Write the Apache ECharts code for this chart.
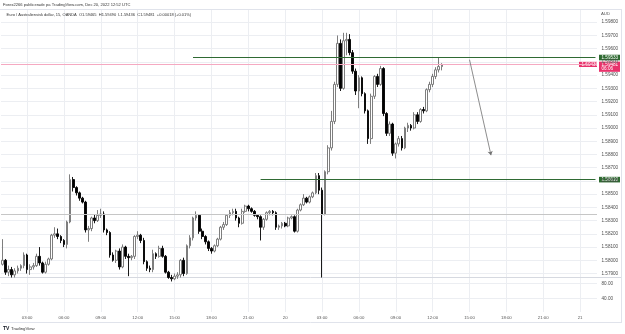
<!DOCTYPE html>
<html><head><meta charset="utf-8">
<script src="https://cdn.jsdelivr.net/npm/echarts@6/dist/echarts.min.js"></script>
<style>html,body{margin:0;padding:0;background:#fff}#c{width:625px;height:334px}</style>
</head><body><div id="c"></div>
<script>
// ---- DATA ----
const opens = [1.5797,1.5800,1.5791,1.5793,1.5789,1.5792,1.5794,1.5796,1.5804,1.5793,
1.5795,1.5796,1.5803,1.5798,1.5791,1.5797,1.5801,1.5819,1.5820,1.5818,
1.5815,1.5812,1.5829,1.5861,1.5855,1.5851,1.5847,1.5844,1.5823,1.5824,
1.5832,1.5830,1.5834,1.5835,1.5823,1.5821,1.5804,1.5800,1.5807,1.5795,
1.5810,1.5803,1.5802,1.5803,1.5818,1.5819,1.5815,1.5799,1.5794,1.5793,
1.5805,1.5803,1.5809,1.5803,1.5791,1.5787,1.5786,1.5788,1.5789,1.5800,
1.5790,1.5811,1.5817,1.5832,1.5834,1.5822,1.5818,1.5814,1.5809,1.5807,
1.5811,1.5816,1.5825,1.5827,1.5834,1.5836,1.5837,1.5832,1.5828,1.5837,
1.5841,1.5839,1.5837,1.5834,1.5833,1.5825,1.5831,1.5836,1.5837,1.5836,
1.5825,1.5826,1.5828,1.5826,1.5832,1.5833,1.5822,1.5838,1.5842,1.5847,
1.5844,1.5848,1.5851,1.5864,1.5853,1.5835,1.5867,1.5885,1.5905,1.5933,
1.5964,1.5930,1.5966,1.5967,1.5957,1.5943,1.5928,1.5938,1.5926,1.5913,
1.5892,1.5924,1.5939,1.5933,1.5945,1.5911,1.5896,1.5903,1.5881,1.5888,
1.5892,1.5885,1.5900,1.5902,1.5900,1.5910,1.5905,1.5914,1.5913,1.5929,
1.5933,1.5939,1.5944,1.59465];
const closes = [1.5800,1.5791,1.5793,1.5789,1.5792,1.5794,1.5796,1.5804,1.5793,1.5795,
1.5796,1.5803,1.5798,1.5791,1.5797,1.5801,1.5819,1.5820,1.5818,1.5815,
1.5812,1.5829,1.5861,1.5855,1.5851,1.5847,1.5844,1.5823,1.5824,1.5832,
1.5830,1.5834,1.5835,1.5823,1.5821,1.5804,1.5800,1.5807,1.5795,1.5810,
1.5803,1.5802,1.5803,1.5818,1.5819,1.5815,1.5799,1.5794,1.5793,1.5805,
1.5803,1.5809,1.5803,1.5791,1.5787,1.5786,1.5788,1.5789,1.5800,1.5790,
1.5811,1.5817,1.5832,1.5834,1.5822,1.5818,1.5814,1.5809,1.5807,1.5811,
1.5816,1.5825,1.5827,1.5834,1.5836,1.5837,1.5832,1.5828,1.5837,1.5841,
1.5839,1.5837,1.5834,1.5833,1.5825,1.5831,1.5836,1.5837,1.5836,1.5825,
1.5826,1.5828,1.5826,1.5832,1.5833,1.5822,1.5838,1.5842,1.5847,1.5844,
1.5848,1.5851,1.5864,1.5853,1.5835,1.5867,1.5885,1.5905,1.5933,1.5964,
1.5930,1.5966,1.5967,1.5957,1.5943,1.5928,1.5938,1.5926,1.5913,1.5892,
1.5924,1.5939,1.5933,1.5945,1.5911,1.5896,1.5903,1.5881,1.5888,1.5892,
1.5885,1.5900,1.5902,1.5900,1.5910,1.5905,1.5914,1.5913,1.5929,1.5933,
1.5939,1.5944,1.59465,1.59481];
const lows = [1.5796,1.5789,1.5788,1.5787,1.5787,1.5790,1.5792,1.5794,1.5790,1.5789,
1.5793,1.5795,1.5796,1.5790,1.5790,1.5796,1.5800,1.5817,1.5816,1.5813,
1.5810,1.5809,1.5828,1.5852,1.5849,1.5845,1.5843,1.5821,1.5814,1.5822,
1.5828,1.5829,1.5832,1.5821,1.5819,1.5802,1.5799,1.5798,1.5793,1.5794,
1.5801,1.5788,1.5800,1.5801,1.5816,1.5813,1.5797,1.5792,1.5791,1.5791,
1.5801,1.5802,1.5802,1.5790,1.5786,1.5784,1.5785,1.5786,1.5787,1.5788,
1.5789,1.5809,1.5815,1.5830,1.5820,1.5816,1.5812,1.5807,1.5805,1.5806,
1.5810,1.5815,1.5823,1.5826,1.5832,1.5834,1.5830,1.5825,1.5827,1.5836,
1.5837,1.5836,1.5833,1.5831,1.5815,1.5823,1.5830,1.5834,1.5834,1.5823,
1.5823,1.5824,1.5825,1.5825,1.5831,1.5821,1.5821,1.5837,1.5841,1.5843,
1.5843,1.5847,1.5850,1.5850,1.5787,1.5834,1.5865,1.5883,1.5903,1.5931,
1.5928,1.5929,1.5955,1.5955,1.5941,1.5925,1.5915,1.5924,1.5911,1.5888,
1.5888,1.5922,1.5931,1.5932,1.5909,1.5894,1.5894,1.5879,1.5877,1.5886,
1.5883,1.5884,1.5897,1.5898,1.5899,1.5903,1.5904,1.5911,1.5912,1.5927,
1.5931,1.5937,1.5942,1.59436];
const highs = [1.5816,1.5801,1.5796,1.5795,1.5794,1.5796,1.5797,1.5806,1.5805,1.5797,
1.5798,1.5805,1.5810,1.5799,1.5799,1.5802,1.5820,1.5825,1.5824,1.5819,
1.5816,1.5830,1.5865,1.5863,1.5856,1.5852,1.5848,1.5845,1.5826,1.5833,
1.5835,1.5838,1.5839,1.5837,1.5824,1.5822,1.5806,1.5808,1.5809,1.5812,
1.5811,1.5805,1.5804,1.5819,1.5822,1.5820,1.5817,1.5800,1.5796,1.5808,
1.5806,1.5811,1.5811,1.5804,1.5792,1.5789,1.5790,1.5791,1.5801,1.5802,
1.5812,1.5819,1.5833,1.5837,1.5835,1.5824,1.5819,1.5815,1.5810,1.5812,
1.5817,1.5826,1.5829,1.5835,1.5838,1.5839,1.5839,1.5833,1.5839,1.5842,
1.5842,1.5840,1.5838,1.5835,1.5834,1.5832,1.5837,1.5838,1.5838,1.5837,
1.5827,1.5829,1.5829,1.5833,1.5834,1.5834,1.5839,1.5843,1.5850,1.5848,
1.5849,1.5852,1.5866,1.5866,1.5855,1.5868,1.5887,1.5913,1.5935,1.5970,
1.5967,1.5972,1.5972,1.5971,1.5959,1.5945,1.5940,1.5939,1.5927,1.5914,
1.5926,1.5940,1.5941,1.5947,1.5946,1.5912,1.5905,1.5904,1.5889,1.5894,
1.5894,1.5901,1.5904,1.5903,1.5912,1.5912,1.5915,1.5916,1.5930,1.5935,
1.5941,1.5946,1.5953,1.59490];
const priceTicks = [1.579,1.580,1.581,1.582,1.583,1.584,1.585,1.586,1.587,1.588,1.589,1.590,1.591,1.592,1.593,1.594,1.595,1.596,1.597,1.598];
const rsiTicks = [40, 80];
const levelUpper = 1.59533, levelLower = 1.58610, lastPrice = 1.59481, grayLevel = 1.5835;
const upperStartIdx = 62, lowerStartIdx = 84;
const arrowFrom = [152, 1.59517], arrowTo = [159, 1.58795];

// ---- time slots (15 min) ----
const SLOTS = 194;
const t0 = Date.UTC(2022, 11, 19, 1, 0);
const cats = [];
for (let i = 0; i < SLOTS; i++) cats.push(new Date(t0 + i * 900000).toISOString().slice(0, 16));
function isMajor(idx) {
  const v = cats[idx]; const h = +v.slice(11, 13), m = +v.slice(14, 16);
  return m === 0 && h % 3 === 0;
}
function timeFmt(v) {
  const h = +v.slice(11, 13);
  if (h === 0 && v.slice(14,16) === '00') return String(+v.slice(8, 10));
  return v.slice(11, 16);
}
const candles = opens.map((o, i) => [o, closes[i], lows[i], highs[i]]);

const FONT = 'Liberation Sans';
const gridColor = '#eceef2';
const chart = echarts.init(document.getElementById('c'), null, {renderer: 'canvas'});

const xBase = {
  type: 'category', data: cats, boundaryGap: true,
  axisLine: {show: false}, axisTick: {show: false, alignWithLabel: true, interval: (i) => isMajor(i)},
  splitLine: {show: true, alignWithLabel: true, interval: (i) => isMajor(i), lineStyle: {color: gridColor, width: 1}}
};

chart.setOption({
  animation: false,
  backgroundColor: '#ffffff',
  grid: [
    {left: 1, right: 28, top: 9, height: 268.5},
    {left: 1, right: 28, top: 278, height: 34}
  ],
  xAxis: [
    Object.assign({}, xBase, {gridIndex: 0, axisLabel: {show: false}}),
    Object.assign({}, xBase, {gridIndex: 1, axisLabel: {show: true, interval: (i) => isMajor(i), formatter: (v) => timeFmt(v), fontSize: 4.3, color: '#555', fontFamily: FONT, margin: 3.5}})
  ],
  yAxis: [
    {type: 'value', gridIndex: 0, position: 'right', min: 1.5787, max: 1.5990,
     axisLine: {show: false}, axisTick: {show: false, customValues: priceTicks},
     axisLabel: {customValues: priceTicks, formatter: (v) => v.toFixed(5), fontSize: 4.6, color: '#4d4d4d', fontFamily: FONT, margin: 4.5},
     splitLine: {show: true, lineStyle: {color: gridColor, width: 1}}},
    {type: 'value', gridIndex: 1, position: 'right', min: 3.5, max: 94.1,
     axisLine: {show: false}, axisTick: {show: false, customValues: rsiTicks},
     axisLabel: {customValues: rsiTicks, formatter: (v) => v.toFixed(2), fontSize: 4.6, color: '#4d4d4d', fontFamily: FONT, margin: 4.5},
     splitLine: {show: true, lineStyle: {color: gridColor, width: 1}}}
  ],
  series: [{
    type: 'candlestick', xAxisIndex: 0, yAxisIndex: 0, data: candles, barWidth: 2.2,
    itemStyle: {color: '#ffffff', color0: '#000000', borderColor: '#6f6f6f', borderColor0: '#000000', borderWidth: 0.9},
    markLine: {
      silent: true, symbol: 'none', animation: false, precision: 6, label: {show: false},
      data: [
        {yAxis: grayLevel, lineStyle: {color: '#c6c6c6', width: 1, type: 'solid'}},
        {yAxis: lastPrice, lineStyle: {color: '#f5a9c1', width: 1, type: 'solid'}},
        [{coord: [cats[upperStartIdx], levelUpper], lineStyle: {color: '#2f6a33', width: 1, type: 'solid'}}, {coord: [cats[SLOTS - 1], levelUpper]}],
        [{coord: [cats[lowerStartIdx], levelLower], lineStyle: {color: '#2f6a33', width: 1, type: 'solid'}}, {coord: [cats[SLOTS - 1], levelLower]}],
        [{coord: [cats[arrowFrom[0]], arrowFrom[1]], symbol: 'none', lineStyle: {color: '#707070', width: 0.8, type: 'solid'}},
         {coord: [cats[arrowTo[0]], arrowTo[1]], symbol: 'arrow', symbolSize: 4}]
      ]
    }
  }]
});

function yPix(v) { return chart.convertToPixel({yAxisIndex: 0}, v); }
function tag(y, h, text, fill, x, w) {
  return {type: 'group', z: 100, children: [
    {type: 'rect', shape: {x: x, y: y - h / 2, width: w, height: h}, style: {fill: fill}},
    {type: 'text', style: {text: text, x: x + 2.5, y: y, fill: '#ffffff', font: '4.6px ' + FONT, verticalAlign: 'middle', align: 'left'}}
  ]};
}
const yU = yPix(levelUpper), yL = yPix(levelLower), yP = yPix(lastPrice);
chart.setOption({
  graphic: [
    {type: 'line', shape: {x1: 0, y1: 9.5, x2: 621, y2: 9.5}, style: {stroke: '#e0e3eb', lineWidth: 1}},
    {type: 'line', shape: {x1: 0, y1: 277.5, x2: 621, y2: 277.5}, style: {stroke: '#d6d9e0', lineWidth: 1}},
    {type: 'line', shape: {x1: 0, y1: 322.5, x2: 621, y2: 322.5}, style: {stroke: '#e0e3eb', lineWidth: 1}},
    {type: 'line', shape: {x1: 621.5, y1: 9, x2: 621.5, y2: 323}, style: {stroke: '#e0e3eb', lineWidth: 1}},
    {type: 'text', style: {text: 'Forex2266 publicerade på TradingView.com, Dec 20, 2022 12:52 UTC', x: 3, y: 4.5, fill: '#333', font: '4.1px ' + FONT, verticalAlign: 'middle'}},
    {type: 'text', style: {text: 'Euro / Australiensisk dollar, 15, OANDA  O1.59465  H1.59490  L1.59436  C1.59481  +0.00018 (+0.01%)', x: 6.5, y: 15, fill: '#333', font: '4px ' + FONT, verticalAlign: 'middle'}},
    {type: 'text', style: {text: 'AUD', x: 601, y: 14, fill: '#555', font: '4.3px ' + FONT, verticalAlign: 'middle'}},
    {type: 'text', style: {text: 'TV', x: 3, y: 328.5, fill: '#131722', font: 'bold 5px ' + FONT, verticalAlign: 'middle'}},
    {type: 'text', style: {text: 'TradingView', x: 11, y: 328.5, fill: '#333', font: '4.3px ' + FONT, verticalAlign: 'middle'}},
    tag(yU, 5.6, levelUpper.toFixed(5), '#2e6a31', 599, 21),
    tag(yL, 5.6, levelLower.toFixed(5), '#2e6a31', 599, 21),
    {type: 'group', z: 101, children: [
      {type: 'rect', shape: {x: 599, y: yP - 2.8, width: 21, height: 10.2}, style: {fill: '#e8326b'}},
      {type: 'text', style: {text: lastPrice.toFixed(5), x: 601.5, y: yP, fill: '#fff', font: '4.6px ' + FONT, verticalAlign: 'middle'}},
      {type: 'text', style: {text: '06:06', x: 601.5, y: yP + 4.8, fill: '#fff', font: '4.6px ' + FONT, verticalAlign: 'middle'}}
    ]},
    tag(yP, 5.2, '1.60436', '#e8326b', 579, 18)
  ]
});
</script></body></html>
